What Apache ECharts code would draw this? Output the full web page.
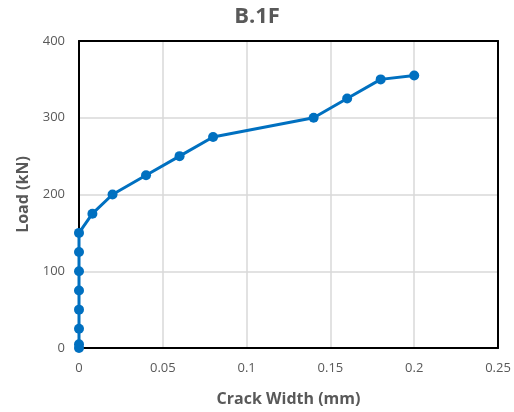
<!DOCTYPE html>
<html>
<head>
<meta charset="utf-8">
<script src="https://cdn.jsdelivr.net/npm/echarts@6/dist/echarts.min.js"></script>
<style>
  html, body { margin: 0; padding: 0; background: #fff; }
  #chart { width: 514px; height: 412px; }
</style>
</head>
<body>
<div id="chart"></div>
<script>
// Crack width (mm) against applied load (kN) for specimen B.1F
const crackWidth = [0, 0, 0, 0, 0, 0, 0, 0, 0.008, 0.02, 0.04, 0.06, 0.08, 0.14, 0.16, 0.18, 0.2];
const load       = [0, 5, 25, 50, 75, 100, 125, 150, 175, 200, 225, 250, 275, 300, 325, 350, 355];
const xTicks = { min: 0, max: 0.25, step: 0.05 };
const yTicks = { min: 0, max: 400, step: 100 };

const points = crackWidth.map((x, i) => [x, load[i]]);
const gray = '#595959';
const font = '"Open Sans", "Liberation Sans", sans-serif';

// plain frame axes closing the plot box on the top and right
const frameAxis = (pos, range) => ({
  type: 'value', position: pos, min: range.min, max: range.max, interval: range.step,
  axisLine: { show: true, onZero: false, lineStyle: { color: '#000', width: 2 } },
  axisTick: { show: false }, axisLabel: { show: false }, splitLine: { show: false }
});

const chart = echarts.init(document.getElementById('chart'), null, { renderer: 'canvas' });
chart.setOption({
  animation: false,
  backgroundColor: '#fff',
  title: {
    text: 'B.1F',
    left: 'center',
    top: 1,
    textStyle: { color: gray, fontSize: 22, fontWeight: 'bold', fontFamily: font }
  },
  grid: { left: 79, right: 16, top: 41, bottom: 63 },
  xAxis: [{
    type: 'value',
    min: xTicks.min, max: xTicks.max, interval: xTicks.step,
    name: 'Crack Width (mm)',
    nameLocation: 'middle',
    nameGap: 43,
    nameTextStyle: { color: gray, fontSize: 16, fontWeight: 'bold', fontFamily: font },
    axisLine: { show: true, onZero: false, lineStyle: { color: '#000', width: 2 } },
    axisTick: { show: false },
    axisLabel: { color: gray, fontSize: 13, margin: 14, fontFamily: font },
    splitLine: { show: true, lineStyle: { color: '#d9d9d9', width: 1.5 } }
  }, frameAxis('top', xTicks)],
  yAxis: [{
    type: 'value',
    min: yTicks.min, max: yTicks.max, interval: yTicks.step,
    name: 'Load (kN)',
    nameLocation: 'middle',
    nameGap: 46,
    nameTextStyle: { color: gray, fontSize: 16, fontWeight: 'bold', fontFamily: font },
    axisLine: { show: true, onZero: false, lineStyle: { color: '#000', width: 2 } },
    axisTick: { show: false },
    axisLabel: { color: gray, fontSize: 13, margin: 14, fontFamily: font },
    splitLine: { show: true, lineStyle: { color: '#d9d9d9', width: 1.5 } }
  }, frameAxis('right', yTicks)],
  series: [{
    type: 'line',
    data: points,
    symbol: 'circle',
    symbolSize: 10,
    showAllSymbol: true,
    clip: false,
    z: 5,
    itemStyle: { color: '#0070C0' },
    lineStyle: { color: '#0070C0', width: 3 }
  }]
});
</script>
</body>
</html>
